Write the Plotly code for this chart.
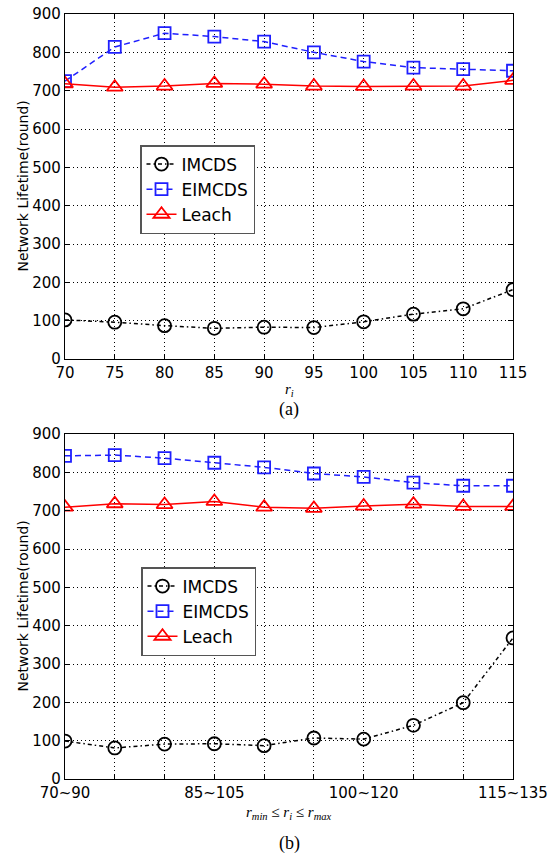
import plotly.graph_objects as go

# ---------------- data ----------------
ri_values = [70, 75, 80, 85, 90, 95, 100, 105, 110, 115]
a_imcds = [102, 96, 87, 80, 83, 82, 97, 117, 131, 181]
a_eimcds = [725, 814, 850, 841, 828, 800, 776, 760, 756, 752]
a_leach = [718, 709, 712, 719, 717, 712, 711, 712, 712, 727]

range_labels = ["70~90", "75~95", "80~100", "85~105", "90~110",
                "95~115", "100~120", "105~125", "110~130", "115~135"]
shown_range_labels = ["70~90", "85~105", "100~120", "115~135"]
b_imcds = [99, 81, 91, 92, 87, 107, 104, 140, 199, 368]
b_eimcds = [843, 845, 837, 825, 813, 797, 788, 773, 765, 765]
b_leach = [709, 718, 716, 724, 709, 706, 712, 717, 711, 711]

y_ticks = [0, 100, 200, 300, 400, 500, 600, 700, 800, 900]
series_names = ["IMCDS", "EIMCDS", "Leach"]

# ---------------- geometry ----------------
W, H = 554, 857
X0, X1 = 65, 513
TOP_Y0, TOP_Y1 = 14, 359
BOT_Y0, BOT_Y1 = 434, 779


def py(v):
    return 1 - v / H


styles = {
    "IMCDS": dict(color="black", dash="4px,3px,1.5px,3px", symbol="circle-open", size=13),
    "EIMCDS": dict(color="#1f1fff", dash="6px,4px", symbol="square-open", size=12),
    "Leach": dict(color="#ff0000", dash="solid", symbol="triangle-up-open", size=14),
}

fig = go.Figure()

idx = list(range(len(range_labels)))
for name, ys in zip(series_names, [a_imcds, a_eimcds, a_leach]):
    s = styles[name]
    fig.add_trace(go.Scatter(
        x=ri_values, y=ys, name=name, mode="lines+markers",
        line=dict(color=s["color"], dash=s["dash"], width=1.5),
        marker=dict(symbol=s["symbol"], size=s["size"], color=s["color"],
                    line=dict(width=1.8, color=s["color"])),
        xaxis="x", yaxis="y", legend="legend",
    ))
for name, ys in zip(series_names, [b_imcds, b_eimcds, b_leach]):
    s = styles[name]
    fig.add_trace(go.Scatter(
        x=idx, y=ys, name=name, mode="lines+markers",
        line=dict(color=s["color"], dash=s["dash"], width=1.5),
        marker=dict(symbol=s["symbol"], size=s["size"], color=s["color"],
                    line=dict(width=1.8, color=s["color"])),
        xaxis="x2", yaxis="y2", legend="legend2",
    ))

tickfont = dict(family="DejaVu Sans", size=15, color="black")
common_axis = dict(
    showline=True, linecolor="black", linewidth=1.2, mirror="allticks",
    ticks="inside", ticklen=5, tickcolor="black", tickwidth=1,
    showgrid=True, gridcolor="black", gridwidth=1, griddash="1px,3px",
    zeroline=False, tickfont=tickfont, fixedrange=True, automargin=False,
)

bottom_ticktext = [lab if lab in shown_range_labels else "" for lab in range_labels]

legend_common = dict(
    bgcolor="white", bordercolor="#555555", borderwidth=1.5,
    font=dict(family="DejaVu Sans", size=17, color="black"),
    xanchor="left", yanchor="top", tracegroupgap=0, itemwidth=30,
)

fig.update_layout(
    template="none",
    width=W, height=H,
    margin=dict(l=0, r=0, t=0, b=0, autoexpand=False),
    paper_bgcolor="white", plot_bgcolor="white",
    xaxis=dict(common_axis, domain=[X0 / W, X1 / W], anchor="y",
               range=[70, 115], tickvals=ri_values),
    yaxis=dict(common_axis, domain=[py(TOP_Y1), py(TOP_Y0)], anchor="x",
               range=[0, 900], tickvals=y_ticks),
    xaxis2=dict(common_axis, domain=[X0 / W, X1 / W], anchor="y2",
                range=[0, 9], tickvals=idx, ticktext=bottom_ticktext),
    yaxis2=dict(common_axis, domain=[py(BOT_Y1), py(BOT_Y0)], anchor="x2",
                range=[0, 900], tickvals=y_ticks),
    legend=dict(legend_common, x=140 / W, y=py(145)),
    legend2=dict(legend_common, x=141 / W, y=py(567)),
    showlegend=True,
)

ann_font_axis = dict(family="DejaVu Sans", size=14, color="black")
serif = dict(family="Liberation Serif", size=18, color="black")
annotations = [
    dict(text="Network Lifetime(round)", x=22 / W, y=py((TOP_Y0 + TOP_Y1) / 2),
         xref="paper", yref="paper", textangle=-90, showarrow=False,
         font=ann_font_axis, xanchor="center", yanchor="middle"),
    dict(text="Network Lifetime(round)", x=22 / W, y=py((BOT_Y0 + BOT_Y1) / 2),
         xref="paper", yref="paper", textangle=-90, showarrow=False,
         font=ann_font_axis, xanchor="center", yanchor="middle"),
    dict(text="<i>r</i><sub><i>i</i></sub>", x=(X0 + X1) / 2 / W, y=py(390),
         xref="paper", yref="paper", showarrow=False,
         font=dict(family="Liberation Serif", size=15, color="black"),
         xanchor="center", yanchor="middle"),
    dict(text="(a)", x=(X0 + X1) / 2 / W, y=py(409),
         xref="paper", yref="paper", showarrow=False, font=serif,
         xanchor="center", yanchor="middle"),
    dict(text="<i>r</i><sub><i>min</i></sub> ≤ <i>r</i><sub><i>i</i></sub> ≤ <i>r</i><sub><i>max</i></sub>",
         x=(X0 + X1) / 2 / W, y=py(813),
         xref="paper", yref="paper", showarrow=False,
         font=dict(family="Liberation Serif", size=15, color="black"),
         xanchor="center", yanchor="middle"),
    dict(text="(b)", x=(X0 + X1) / 2 / W, y=py(843),
         xref="paper", yref="paper", showarrow=False, font=serif,
         xanchor="center", yanchor="middle"),
]
fig.update_layout(annotations=annotations)

fig.write_html(
    "out.html",
    config={"displayModeBar": False, "staticPlot": True},
    post_script="document.body.style.margin='0px';document.body.style.overflow='hidden';",
)
